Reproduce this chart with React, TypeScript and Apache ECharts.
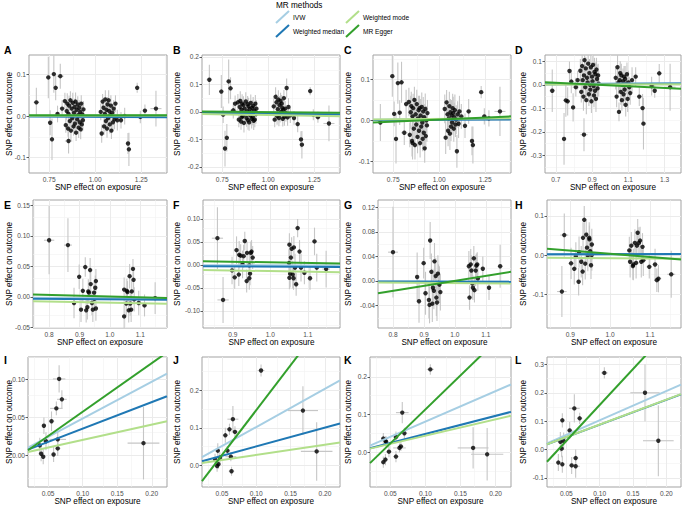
import React, { useEffect, useRef } from "react";
import * as echarts from "echarts";

const FONT = "'Liberation Sans', Arial, Helvetica, sans-serif";

const panelLetters = ["A", "B", "C", "D", "E", "F", "G", "H", "I", "J", "K", "L"];
const methodNames = ["IVW", "Weighted median", "Weighted mode", "MR Egger"];
const methodColors = ["#A6CEE3", "#1F78B4", "#B2DF8A", "#33A02C"];
const legendTitle = "MR methods";
const xTitle = "SNP effect on exposure";
const yTitle = "SNP effect on outcome";

// ---------- Row 1 (A-D): shared SNP-exposure effects ----------
const exposureRow1 = [
  0.68, 0.745, 0.755, 0.765, 0.775, 0.785, 0.795, 0.81, 0.82, 0.855,
  0.835, 0.84, 0.845, 0.848, 0.852, 0.855, 0.858, 0.862, 0.865, 0.868, 0.872, 0.875, 0.878, 0.882, 0.885, 0.888, 0.89,
  0.893, 0.896, 0.899, 0.902, 0.905, 0.908, 0.91, 0.913, 0.916, 0.918, 0.921, 0.924, 0.927, 0.93, 0.933, 0.936,
  1.03, 1.035, 1.04, 1.045, 1.048, 1.052, 1.055, 1.058, 1.061, 1.064, 1.067, 1.07, 1.073, 1.076, 1.079, 1.082,
  1.085, 1.088, 1.092, 1.096, 1.1, 1.105, 1.11, 1.12,
  1.14, 1.16, 1.178, 1.183, 1.228, 1.245, 1.27, 1.33,
];
const exposureSeRow1 = [
  0.015, 0.01, 0.012, 0.01, 0.01, 0.012, 0.01, 0.018, 0.01, 0.02,
  0.006, 0.008, 0.005, 0.007, 0.006, 0.009, 0.005, 0.007, 0.006, 0.008, 0.005, 0.007, 0.006, 0.009, 0.005, 0.007, 0.006,
  0.008, 0.005, 0.007, 0.006, 0.009, 0.005, 0.007, 0.006, 0.008, 0.005, 0.007, 0.006, 0.009, 0.005, 0.007, 0.006,
  0.006, 0.008, 0.005, 0.007, 0.006, 0.009, 0.005, 0.007, 0.006, 0.008, 0.005, 0.007, 0.006, 0.009, 0.005, 0.007,
  0.006, 0.008, 0.005, 0.007, 0.006, 0.009, 0.005, 0.007,
  0.01, 0.012, 0.012, 0.012, 0.01, 0.01, 0.012, 0.03,
];

const outcomeA = [
  0.033, 0.093, -0.016, -0.056, 0.101, 0.068, 0.005, 0.096, 0.018, -0.06,
  0.036, -0.022, 0.012, 0.03, -0.03, 0.005, 0.025, -0.012, 0.038, -0.035, 0.018, -0.005, 0.032, -0.025, 0.008, 0.022, -0.018,
  0.035, -0.04, 0.015, -0.008, 0.028, 0.002, -0.028, 0.02, -0.015, 0.01, -0.032, 0.03, -0.02, 0.004, -0.01, 0.016,
  0.01, -0.042, 0.035, 0.02, -0.025, 0.005, 0.04, -0.012, 0.015, -0.03, 0.028, -0.005, 0.038, 0.012, -0.02, 0.002,
  0.025, -0.035, 0.008, -0.015, 0.018, -0.008, 0.03, -0.01,
  -0.01, 0.0, -0.066, -0.08, 0.068, -0.002, 0.013, 0.018,
];
const outcomeSeA = [
  0.035, 0.05, 0.03, 0.05, 0.045, 0.03, 0.02, 0.03, 0.02, 0.03,
  0.02, 0.018, 0.022, 0.025, 0.02, 0.018, 0.024, 0.02, 0.022, 0.025, 0.018, 0.02, 0.024, 0.022, 0.018, 0.02, 0.025,
  0.022, 0.02, 0.018, 0.024, 0.02, 0.022, 0.025, 0.018, 0.02, 0.022, 0.024, 0.02, 0.018, 0.022, 0.025, 0.02,
  0.02, 0.022, 0.018, 0.024, 0.02, 0.018, 0.022, 0.025, 0.02, 0.022, 0.018, 0.02, 0.024, 0.02, 0.022, 0.018,
  0.025, 0.02, 0.022, 0.018, 0.02, 0.024, 0.02, 0.025,
  0.02, 0.02, 0.025, 0.04, 0.012, 0.015, 0.015, 0.043,
];
const outcomeB = [
  0.117, 0.074, -0.01, -0.133, -0.094, 0.111, 0.086, 0.006, 0.03, -0.02,
  0.035, -0.028, 0.018, 0.04, -0.035, 0.008, 0.03, -0.015, 0.025, -0.04, 0.012, -0.005, 0.038, -0.022, 0.002, 0.028, -0.03,
  0.02, -0.038, 0.01, -0.012, 0.033, -0.002, -0.025, 0.015, -0.018, 0.022, -0.032, 0.005, -0.028, 0.03, -0.008, 0.012,
  0.02, -0.028, 0.055, 0.035, -0.015, 0.01, 0.045, -0.022, 0.025, -0.01, 0.04, 0.0, 0.03, 0.015, -0.025, 0.008,
  0.05, -0.018, 0.012, -0.005, 0.087, -0.02, 0.018, -0.012,
  -0.022, -0.044, -0.1, -0.119, 0.076, -0.01, -0.019, -0.042,
];
const outcomeSeB = [
  0.055, 0.06, 0.03, 0.065, 0.05, 0.08, 0.04, 0.03, 0.03, 0.03,
  0.03, 0.028, 0.032, 0.035, 0.03, 0.028, 0.034, 0.03, 0.032, 0.035, 0.028, 0.03, 0.034, 0.032, 0.028, 0.03, 0.035,
  0.032, 0.03, 0.028, 0.034, 0.03, 0.032, 0.035, 0.028, 0.03, 0.032, 0.034, 0.03, 0.028, 0.032, 0.035, 0.03,
  0.03, 0.028, 0.035, 0.03, 0.032, 0.028, 0.034, 0.03, 0.032, 0.028, 0.03, 0.034, 0.032, 0.03, 0.028, 0.035,
  0.03, 0.032, 0.028, 0.03, 0.035, 0.03, 0.032, 0.028,
  0.025, 0.03, 0.03, 0.05, 0.015, 0.02, 0.02, 0.065,
];
const outcomeC = [
  -0.005, 0.108, 0.016, -0.045, 0.091, 0.019, 0.093, -0.03, 0.04, -0.055,
  0.045, -0.035, 0.02, 0.035, -0.05, 0.01, 0.03, -0.02, 0.05, -0.06, 0.015, -0.01, 0.04, -0.04, 0.005, 0.025, -0.025,
  0.03, -0.055, 0.012, -0.015, 0.033, -0.005, -0.045, 0.022, -0.03, 0.008, -0.068, 0.028, -0.038, 0.0, -0.012, 0.018,
  0.028, -0.042, 0.044, 0.015, -0.025, 0.005, 0.035, -0.032, 0.02, -0.015, 0.012, -0.005, 0.03, 0.018, -0.02, 0.008,
  0.025, -0.01, 0.002, -0.075, 0.015, -0.008, 0.022, 0.01,
  -0.013, 0.022, -0.05, -0.06, 0.069, 0.01, 0.005, 0.022,
];
const outcomeSeC = [
  0.045, 0.05, 0.03, 0.06, 0.05, 0.03, 0.05, 0.03, 0.035, 0.04,
  0.035, 0.03, 0.04, 0.035, 0.038, 0.03, 0.035, 0.04, 0.032, 0.035, 0.038, 0.03, 0.035, 0.04, 0.032, 0.035, 0.038,
  0.03, 0.035, 0.04, 0.032, 0.035, 0.038, 0.03, 0.035, 0.04, 0.032, 0.035, 0.038, 0.03, 0.035, 0.04, 0.032,
  0.035, 0.04, 0.03, 0.035, 0.038, 0.03, 0.035, 0.04, 0.032, 0.035, 0.038, 0.03, 0.035, 0.04, 0.032, 0.035,
  0.038, 0.03, 0.035, 0.04, 0.032, 0.035, 0.038, 0.03,
  0.03, 0.03, 0.035, 0.045, 0.015, 0.02, 0.02, 0.06,
];
const outcomeD = [
  -0.025, -0.23, -0.066, -0.07, 0.059, 0.014, -0.096, -0.01, 0.02, -0.212,
  0.06, -0.03, 0.08, 0.02, -0.05, 0.04, 0.105, -0.01, 0.07, -0.065, 0.03, 0.01, 0.09, -0.04, 0.05, 0.0, -0.02,
  0.075, -0.07, 0.035, 0.015, 0.085, -0.005, -0.045, 0.055, -0.025, 0.045, -0.06, 0.065, 0.025, -0.015, 0.04, 0.005,
  0.03, -0.05, 0.075, 0.01, -0.115, 0.02, 0.05, -0.03, 0.04, -0.065, 0.0, 0.015, -0.04, 0.035, -0.02, 0.025,
  -0.085, 0.005, 0.045, -0.06, 0.01, -0.01, -0.035, 0.02,
  0.035, -0.05, -0.099, -0.165, -0.005, -0.025, 0.049, -0.01,
];
const outcomeSeD = [
  0.09, 0.11, 0.07, 0.06, 0.04, 0.05, 0.06, 0.04, 0.04, 0.07,
  0.05, 0.045, 0.055, 0.05, 0.06, 0.045, 0.05, 0.055, 0.05, 0.06, 0.045, 0.05, 0.055, 0.05, 0.06, 0.045, 0.05,
  0.055, 0.05, 0.06, 0.045, 0.05, 0.055, 0.05, 0.06, 0.045, 0.05, 0.055, 0.05, 0.06, 0.045, 0.05, 0.055,
  0.05, 0.045, 0.055, 0.05, 0.04, 0.045, 0.05, 0.055, 0.05, 0.045, 0.05, 0.055, 0.05, 0.045, 0.05, 0.055,
  0.05, 0.045, 0.05, 0.055, 0.05, 0.045, 0.05, 0.055,
  0.04, 0.04, 0.06, 0.11, 0.04, 0.03, 0.04, 0.1,
];

// ---------- Rows 2 and 3: [exposure, outcome, exposure SE, outcome SE] ----------
const pointsE = [
  [0.8, 0.093, 0.017, 0.056], [0.862, 0.085, 0.013, 0.044], [0.882, -0.01, 0.005, 0.025], [0.899, 0.033, 0.006, 0.02],
  [0.911, 0.01, 0.005, 0.02], [0.905, -0.021, 0.005, 0.02], [0.919, 0.049, 0.008, 0.016], [0.922, -0.022, 0.005, 0.02],
  [0.926, -0.017, 0.005, 0.02], [0.929, 0.009, 0.005, 0.02], [0.931, 0.007, 0.005, 0.018], [0.935, 0.044, 0.006, 0.02],
  [0.937, 0.021, 0.005, 0.02], [0.941, -0.01, 0.005, 0.02], [0.944, -0.021, 0.005, 0.02], [0.948, 0.007, 0.005, 0.018],
  [0.949, -0.003, 0.005, 0.02], [0.952, 0.015, 0.005, 0.02], [0.954, -0.019, 0.005, 0.02], [0.954, 0.026, 0.005, 0.02],
  [1.047, -0.032, 0.005, 0.02], [1.047, 0.012, 0.006, 0.02], [1.054, -0.011, 0.005, 0.02], [1.056, 0.01, 0.005, 0.02],
  [1.058, 0.008, 0.005, 0.018], [1.062, -0.022, 0.005, 0.02], [1.065, 0.034, 0.005, 0.02], [1.067, -0.011, 0.005, 0.02],
  [1.07, -0.021, 0.005, 0.02], [1.072, 0.009, 0.005, 0.02], [1.076, 0.046, 0.006, 0.016], [1.078, 0.028, 0.005, 0.02],
  [1.08, -0.004, 0.005, 0.02], [1.095, -0.01, 0.008, 0.02], [1.114, -0.014, 0.006, 0.018], [1.149, -0.002, 0.005, 0.026],
];
const pointsF = [
  [0.859, 0.058, 0.015, 0.067], [0.874, -0.076, 0.015, 0.05], [0.898, -0.012, 0.005, 0.03], [0.905, -0.027, 0.006, 0.025],
  [0.91, 0.032, 0.006, 0.03], [0.916, -0.021, 0.005, 0.025], [0.917, 0.022, 0.005, 0.03], [0.921, 0.02, 0.005, 0.025],
  [0.926, 0.001, 0.005, 0.03], [0.929, 0.019, 0.005, 0.025], [0.932, 0.052, 0.006, 0.02], [0.937, -0.035, 0.005, 0.025],
  [0.938, 0.026, 0.005, 0.025], [0.944, -0.001, 0.005, 0.03], [0.944, -0.029, 0.005, 0.025], [0.946, -0.019, 0.005, 0.025],
  [0.948, 0.026, 0.005, 0.025], [0.95, 0.029, 0.005, 0.025], [0.953, 0.016, 0.005, 0.025],
  [1.05, 0.004, 0.005, 0.03], [1.051, 0.044, 0.005, 0.025], [1.053, -0.019, 0.005, 0.03], [1.051, -0.028, 0.005, 0.025],
  [1.055, 0.016, 0.005, 0.03], [1.057, 0.035, 0.005, 0.025], [1.06, -0.021, 0.005, 0.03], [1.062, -0.029, 0.005, 0.025],
  [1.063, 0.038, 0.005, 0.025], [1.066, -0.006, 0.005, 0.03], [1.069, -0.042, 0.005, 0.025], [1.073, 0.08, 0.006, 0.02],
  [1.078, 0.029, 0.005, 0.025], [1.082, -0.006, 0.006, 0.03], [1.091, -0.017, 0.006, 0.025], [1.106, -0.029, 0.006, 0.025],
  [1.118, 0.051, 0.007, 0.03], [1.124, -0.006, 0.006, 0.03], [1.149, -0.009, 0.01, 0.04],
];
const pointsG = [
  [0.8, 0.047, 0.016, 0.074], [0.878, 0.0065, 0.005, 0.04], [0.884, -0.033, 0.005, 0.035], [0.899, 0.029, 0.005, 0.025],
  [0.905, -0.02, 0.005, 0.035], [0.916, -0.031, 0.005, 0.03], [0.918, -0.039, 0.005, 0.03], [0.92, 0.066, 0.006, 0.03],
  [0.924, 0.015, 0.005, 0.03], [0.927, -0.037, 0.005, 0.03], [0.929, -0.011, 0.005, 0.03], [0.932, -0.016, 0.005, 0.03],
  [0.934, 0.032, 0.005, 0.03], [0.938, 0.008, 0.005, 0.03], [0.94, -0.027, 0.005, 0.03], [0.942, -0.035, 0.005, 0.03],
  [0.945, 0.012, 0.005, 0.03], [0.947, -0.003, 0.005, 0.03], [0.95, -0.006, 0.005, 0.03], [0.953, -0.018, 0.005, 0.03],
  [1.045, 0.024, 0.005, 0.025], [1.047, -0.027, 0.005, 0.02], [1.051, 0.027, 0.005, 0.025], [1.053, 0.017, 0.005, 0.025],
  [1.056, -0.004, 0.005, 0.025], [1.058, -0.011, 0.005, 0.02], [1.061, 0.037, 0.005, 0.02], [1.063, -0.015, 0.005, 0.02],
  [1.067, 0.017, 0.005, 0.025], [1.069, 0.025, 0.005, 0.02], [1.072, 0.027, 0.005, 0.02], [1.074, 0.004, 0.005, 0.02],
  [1.09, 0.02, 0.006, 0.02], [1.11, -0.011, 0.006, 0.02], [1.146, 0.024, 0.008, 0.035],
];
const pointsH = [
  [0.885, 0.051, 0.01, 0.055], [0.879, -0.093, 0.012, 0.065], [0.902, -0.021, 0.006, 0.04], [0.91, -0.035, 0.006, 0.04],
  [0.914, -0.0025, 0.006, 0.035], [0.921, -0.068, 0.006, 0.035], [0.922, 0.0076, 0.006, 0.04], [0.9275, -0.017, 0.006, 0.04],
  [0.931, -0.042, 0.006, 0.035], [0.932, 0.044, 0.006, 0.04], [0.935, 0.09, 0.006, 0.035], [0.9375, -0.022, 0.006, 0.04],
  [0.94, 0.052, 0.006, 0.04], [0.942, 0.019, 0.006, 0.04], [0.944, -0.001, 0.006, 0.04], [0.9475, 0.044, 0.006, 0.04],
  [0.948, 0.04, 0.006, 0.035], [0.95, 0.01, 0.006, 0.04], [0.952, -0.026, 0.006, 0.035], [0.954, 0.027, 0.006, 0.04],
  [0.954, 0.0, 0.006, 0.04],
  [1.048, 0.012, 0.006, 0.035], [1.05, -0.017, 0.006, 0.04], [1.053, 0.024, 0.006, 0.035], [1.057, -0.028, 0.006, 0.035],
  [1.058, -0.024, 0.006, 0.04], [1.062, 0.031, 0.006, 0.035], [1.065, -0.02, 0.006, 0.04], [1.067, 0.024, 0.006, 0.035],
  [1.069, 0.057, 0.006, 0.035], [1.072, 0.031, 0.006, 0.04], [1.075, 0.037, 0.006, 0.035], [1.078, -0.017, 0.006, 0.04],
  [1.081, 0.021, 0.006, 0.035], [1.083, -0.0135, 0.006, 0.04], [1.098, -0.03, 0.007, 0.03], [1.1125, -0.024, 0.007, 0.04],
  [1.117, -0.064, 0.007, 0.03], [1.121, -0.06, 0.007, 0.035], [1.153, -0.049, 0.01, 0.06],
];
const pointsI = [
  [0.066, 0.101, 0.009, 0.018], [0.07, 0.074, 0.007, 0.012], [0.062, 0.062, 0.009, 0.009], [0.055, 0.045, 0.004, 0.013],
  [0.044, 0.039, 0.003, 0.011], [0.047, 0.0185, 0.004, 0.012], [0.04, 0.002, 0.004, 0.01], [0.043, -0.002, 0.003, 0.01],
  [0.058, 0.001, 0.003, 0.01], [0.064, 0.021, 0.012, 0.01], [0.064, 0.009, 0.004, 0.01], [0.188, 0.016, 0.023, 0.048],
  [0.038, 0.013, 0.003, 0.01],
];
const pointsJ = [
  [0.107, 0.253, 0.005, 0.016], [0.066, 0.123, 0.008, 0.035], [0.061, 0.096, 0.004, 0.015], [0.055, 0.08, 0.004, 0.02],
  [0.069, 0.089, 0.005, 0.015], [0.058, 0.039, 0.004, 0.012], [0.044, 0.039, 0.003, 0.02], [0.047, 0.02, 0.004, 0.015],
  [0.063, 0.023, 0.008, 0.012], [0.04, 0.016, 0.003, 0.015], [0.043, -0.002, 0.003, 0.015], [0.045, 0.003, 0.003, 0.012],
  [0.064, -0.016, 0.004, 0.012], [0.168, 0.146, 0.022, 0.065], [0.188, 0.037, 0.023, 0.078],
];
const pointsK = [
  [0.107, 0.22, 0.005, 0.014], [0.067, 0.105, 0.009, 0.028], [0.07, 0.05, 0.004, 0.015], [0.058, 0.04, 0.004, 0.015],
  [0.04, 0.036, 0.003, 0.015], [0.044, 0.027, 0.003, 0.015], [0.043, 0.03, 0.003, 0.012], [0.048, 0.001, 0.004, 0.015],
  [0.063, 0.011, 0.009, 0.012], [0.065, 0.015, 0.004, 0.012], [0.058, -0.012, 0.004, 0.015], [0.04, -0.027, 0.003, 0.015],
  [0.043, -0.02, 0.003, 0.015], [0.168, 0.011, 0.022, 0.055], [0.188, -0.006, 0.023, 0.07],
];
const pointsL = [
  [0.107, 0.27, 0.005, 0.02], [0.168, 0.2, 0.022, 0.1], [0.188, 0.031, 0.023, 0.125], [0.062, 0.145, 0.008, 0.05],
  [0.07, 0.11, 0.004, 0.02], [0.055, 0.067, 0.004, 0.03], [0.044, 0.103, 0.003, 0.025], [0.041, 0.027, 0.003, 0.035],
  [0.046, 0.03, 0.003, 0.03], [0.043, 0.003, 0.003, 0.03], [0.038, -0.046, 0.003, 0.03], [0.044, -0.052, 0.003, 0.03],
  [0.058, -0.056, 0.004, 0.03], [0.064, -0.03, 0.004, 0.03], [0.064, -0.059, 0.006, 0.04],
];

// ---------- MR estimates (per panel A..L) ----------
const slopeIVW = [0.0005, -0.005, 0.003, 0.005, -0.002, -0.001, -0.001, 0.002, 0.487, 1.02, 0.81, 1.03];
const slopeMedian = [-0.002, -0.0065, 0.0015, 0.0045, -0.004, -0.0037, -0.0012, 0.0025, 0.352, 0.502, 0.482, 0.875];
const slopeMode = [0.001, -0.0115, 0.004, 0.002, -0.0095, -0.0135, -0.0035, -0.008, 0.203, 0.275, 0.436, 0.88];
const eggerIntercept = [0.002, 0.0063, -0.0178, 0.0349, 0.0142, 0.0192, -0.0813, 0.0837, -0.0069, -0.093, -0.0675, -0.096];
const eggerSlope = [0, -0.0067, 0.02, -0.0373, -0.0136, -0.0137, 0.0816, -0.0804, 0.644, 2.4, 1.81, 2.53];

// ---------- axes ----------
const xRanges = [
  [0.64, 1.39], [0.64, 1.39], [0.64, 1.39], [0.64, 1.39],
  [0.747, 1.188], [0.8205, 1.186], [0.7516, 1.181], [0.8417, 1.1775],
  [0.021, 0.222], [0.021, 0.222], [0.021, 0.222], [0.021, 0.222],
];
const yRanges = [
  [-0.137, 0.147], [-0.222, 0.207], [-0.128, 0.1595], [-0.375, 0.127],
  [-0.051, 0.159], [-0.137, 0.141], [-0.0766, 0.132], [-0.186, 0.1405],
  [-0.042, 0.13], [-0.058, 0.289], [-0.093, 0.253], [-0.132, 0.326],
];
const xTicks = [
  [0.75, 1.0, 1.25], [0.75, 1.0, 1.25], [0.75, 1.0, 1.25], [0.7, 0.9, 1.1, 1.3],
  [0.8, 0.9, 1.0, 1.1], [0.9, 1.0, 1.1], [0.8, 0.9, 1.0, 1.1], [0.9, 1.0, 1.1],
  [0.05, 0.1, 0.15, 0.2], [0.05, 0.1, 0.15, 0.2], [0.05, 0.1, 0.15, 0.2], [0.05, 0.1, 0.15, 0.2],
];
const xDecimals = [2, 2, 2, 1, 1, 1, 1, 1, 2, 2, 2, 2];
const yTicks = [
  [-0.1, 0, 0.1], [-0.2, -0.1, 0, 0.1, 0.2], [-0.1, 0, 0.1], [-0.3, -0.2, -0.1, 0, 0.1],
  [-0.05, 0, 0.05, 0.1, 0.15], [-0.1, -0.05, 0, 0.05, 0.1], [-0.04, 0, 0.04, 0.08, 0.12], [-0.1, 0, 0.1],
  [0, 0.05, 0.1], [0, 0.1, 0.2], [0, 0.1, 0.2], [-0.1, 0, 0.1, 0.2, 0.3],
];
const yDecimals = [1, 1, 1, 1, 2, 2, 2, 1, 2, 1, 1, 1];

// ---------- layout (left, top, width, height of each plot panel) ----------
const panelRects = [
  [29, 55, 138, 118], [202, 55, 138, 118], [373, 55, 138, 118], [545, 55, 136, 118],
  [33, 200, 134, 128], [203, 200, 137, 128], [378, 200, 133, 128], [547, 200, 134, 128],
  [28, 357, 139, 130], [202, 357, 138, 130], [370, 357, 141, 130], [547, 357, 134, 130],
];
const cellTitleX = [9, 177, 348, 523];
const letterX = [4, 173, 344, 515];
const letterY = [50, 205, 360];

function row1Points(ys: number[], ses: number[]) {
  return exposureRow1.map((x, i) => [x, ys[i], exposureSeRow1[i], ses[i]]);
}

const panelPoints = [
  row1Points(outcomeA, outcomeSeA),
  row1Points(outcomeB, outcomeSeB),
  row1Points(outcomeC, outcomeSeC),
  row1Points(outcomeD, outcomeSeD),
  pointsE, pointsF, pointsG, pointsH,
  pointsI, pointsJ, pointsK, pointsL,
];

function minorBreaks(ticks: number[], range: number[]) {
  const step = ticks[1] - ticks[0];
  const out: number[] = [];
  for (let k = -1; k < ticks.length + 1; k++) {
    const v = ticks[0] + (k + 0.5) * step;
    if (v > range[0] && v < range[1]) out.push(v);
  }
  return out;
}

function buildOption() {
  const grid: any[] = [];
  const xAxis: any[] = [];
  const yAxis: any[] = [];
  const series: any[] = [];
  const graphic: any[] = [];

  const majorStyle = { color: "#EBEBEB", width: 1, type: "solid" };
  const minorStyle = { color: "#F2F2F2", width: 0.6, type: "solid" };
  const fits = [
    slopeIVW.map((b) => [0, b]),
    slopeMedian.map((b) => [0, b]),
    slopeMode.map((b) => [0, b]),
    eggerIntercept.map((a, k) => [a, eggerSlope[k]]),
  ];

  panelPoints.forEach((pts, i) => {
    const [left, top, width, height] = panelRects[i];
    const [xmin, xmax] = xRanges[i];
    const [ymin, ymax] = yRanges[i];
    const col = i % 4;
    const row = Math.floor(i / 4);

    grid.push({
      left, top, width, height, show: true, z: 0,
      borderColor: "#A3A3A3", borderWidth: 1, backgroundColor: "#FFFFFF",
    });
    const xd = xDecimals[i];
    const yd = yDecimals[i];
    xAxis.push({
      type: "value", gridIndex: i, min: xmin, max: xmax, scale: true,
      axisLine: { show: false },
      axisTick: { show: true, customValues: xTicks[i], length: 2.5, lineStyle: { color: "#333333", width: 0.8 } },
      axisLabel: {
        show: true, customValues: xTicks[i], formatter: (v: number) => v.toFixed(xd),
        fontSize: 6.6, color: "#4D4D4D", fontFamily: FONT, margin: 3,
      },
      splitLine: { show: false },
    });
    yAxis.push({
      type: "value", gridIndex: i, min: ymin, max: ymax, scale: true,
      axisLine: { show: false },
      axisTick: { show: true, customValues: yTicks[i], length: 2.5, lineStyle: { color: "#333333", width: 0.8 } },
      axisLabel: {
        show: true, customValues: yTicks[i], formatter: (v: number) => v.toFixed(yd),
        fontSize: 6.6, color: "#4D4D4D", fontFamily: FONT, margin: 3,
      },
      splitLine: { show: false },
    });

    const marks: any[] = [];
    minorBreaks(xTicks[i], xRanges[i]).forEach((v) => marks.push({ xAxis: v, lineStyle: minorStyle }));
    minorBreaks(yTicks[i], yRanges[i]).forEach((v) => marks.push({ yAxis: v, lineStyle: minorStyle }));
    xTicks[i].forEach((v) => marks.push({ xAxis: v, lineStyle: majorStyle }));
    yTicks[i].forEach((v) => marks.push({ yAxis: v, lineStyle: majorStyle }));
    series.push({
      type: "line", xAxisIndex: i, yAxisIndex: i, data: [], silent: true, z: 1,
      markLine: {
        silent: true, z: 1, symbol: ["none", "none"], label: { show: false },
        lineStyle: { type: "solid", color: "#EBEBEB", width: 1 },
        emphasis: { disabled: true },
        data: marks,
      },
    });

    series.push({
      type: "custom", xAxisIndex: i, yAxisIndex: i, z: 7, silent: true, clip: true,
      encode: { x: 0, y: 1 },
      data: pts,
      renderItem: (_p: any, api: any) => {
        const x = api.value(0), y = api.value(1), sx = api.value(2), sy = api.value(3);
        const t = api.coord([x, y + sy]);
        const b = api.coord([x, y - sy]);
        const l = api.coord([x - sx, y]);
        const r = api.coord([x + sx, y]);
        const style = { stroke: "#C6C6C6", lineWidth: 1.1 };
        return {
          type: "group",
          children: [
            { type: "line", shape: { x1: t[0], y1: t[1], x2: b[0], y2: b[1] }, style },
            { type: "line", shape: { x1: l[0], y1: l[1], x2: r[0], y2: r[1] }, style },
          ],
        };
      },
    });

    series.push({
      type: "scatter", xAxisIndex: i, yAxisIndex: i, z: 8, silent: true,
      data: pts.map((p) => [p[0], p[1]]),
      symbolSize: 4.4, itemStyle: { color: "#000000" },
    });

    methodNames.forEach((name, m) => {
      const [a, b] = fits[m][i];
      series.push({
        type: "line", name, xAxisIndex: i, yAxisIndex: i, z: 9, silent: true, clip: true,
        symbol: "none", showSymbol: false,
        data: [[xmin, a + b * xmin], [xmax, a + b * xmax]],
        lineStyle: { color: methodColors[m], width: 2 },
        itemStyle: { color: methodColors[m] },
      });
    });

    graphic.push({
      type: "text", x: letterX[col], y: letterY[row],
      style: {
        text: panelLetters[i], fontSize: 10.5, fontWeight: "bold", fontFamily: FONT, fill: "#000",
        textAlign: "left", textVerticalAlign: "middle", align: "left", verticalAlign: "middle",
      },
    });
    graphic.push({
      type: "text", x: left + width / 2, y: top + height + 14,
      style: {
        text: xTitle, fontSize: 8.2, fontFamily: FONT, fill: "#000",
        textAlign: "center", textVerticalAlign: "middle", align: "center", verticalAlign: "middle",
      },
    });
    graphic.push({
      type: "text", x: cellTitleX[col], y: top + height / 2, rotation: Math.PI / 2,
      style: {
        text: yTitle, fontSize: 8.2, fontFamily: FONT, fill: "#000",
        textAlign: "center", textVerticalAlign: "middle", align: "center", verticalAlign: "middle",
      },
    });
  });

  graphic.push({
    type: "text", x: 276, y: 5,
    style: {
      text: legendTitle, fontSize: 8.2, fontFamily: FONT, fill: "#000",
      textAlign: "left", textVerticalAlign: "middle", align: "left", verticalAlign: "middle",
    },
  });
  const legendPos = [[276, 11], [276, 25], [346, 11], [346, 25]];
  methodNames.forEach((name, m) => {
    const [kx, ky] = legendPos[m];
    graphic.push({
      type: "line", shape: { x1: kx, y1: ky + 12, x2: kx + 13, y2: ky }, style: { stroke: methodColors[m], lineWidth: 2 },
    });
    graphic.push({
      type: "text", x: kx + 17, y: ky + 6,
      style: {
        text: name, fontSize: 6.6, fontFamily: FONT, fill: "#000",
        textAlign: "left", textVerticalAlign: "middle", align: "left", verticalAlign: "middle",
      },
    });
  });

  return {
    animation: false,
    backgroundColor: "#FFFFFF",
    textStyle: { fontFamily: FONT },
    grid, xAxis, yAxis, series, graphic,
  };
}

export default function App() {
  const ref = useRef<HTMLDivElement>(null);
  useEffect(() => {
    if (!ref.current) return;
    const chart = echarts.init(ref.current, undefined, { renderer: "svg" });
    chart.setOption(buildOption() as any);
    return () => chart.dispose();
  }, []);
  return (
    <div
      ref={ref}
      style={{ position: "fixed", left: 0, top: 0, width: 685, height: 506, background: "#FFFFFF" }}
    />
  );
}
